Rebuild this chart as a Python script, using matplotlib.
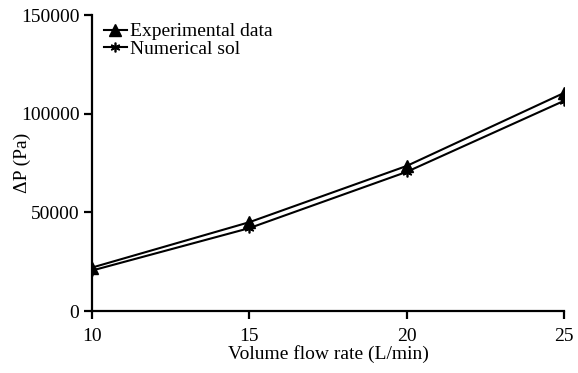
import matplotlib
matplotlib.use("Agg")
import matplotlib.pyplot as plt

flow = [10, 15, 20, 25]
exp_dp = [22000, 45000, 73500, 110500]
num_dp = [20500, 42000, 70500, 106500]
xticks = [10, 15, 20, 25]
yticks = [0, 50000, 100000, 150000]

plt.rcParams['font.family'] = ['Liberation Serif', 'DejaVu Serif']
fig = plt.figure(figsize=(5.78, 3.73), dpi=100)
L, R, T, B = 92, 564, 15, 311
ax = fig.add_axes([L/578, 1-B/373, (R-L)/578, (B-T)/373])
ax.plot(flow, exp_dp, color='black', marker='^', markersize=8, lw=1.5, label='Experimental data')
ax.plot(flow, num_dp, color='black', marker=(6, 2, 0), markersize=7, mew=1.2, lw=1.5, label='Numerical sol')
ax.set_xlim(10, 25)
ax.set_ylim(0, 150000)
ax.set_xticks(xticks)
ax.set_yticks(yticks)
ax.spines['top'].set_visible(False)
ax.spines['right'].set_visible(False)
ax.spines['left'].set_linewidth(1.6)
ax.spines['bottom'].set_linewidth(1.6)
ax.tick_params(direction='out', length=6, width=1.6, labelsize=14, pad=3)
ax.tick_params(axis='x', pad=6)
ax.set_xlabel('Volume flow rate (L/min)', fontsize=14, labelpad=0)
ax.set_ylabel('ΔP (Pa)', fontsize=14, va='center')
ax.yaxis.set_label_coords(-(L-22)/(R-L), 0.5)
ax.legend(loc='upper left', frameon=False, fontsize=14, handlelength=1.2,
          handletextpad=0.15, borderaxespad=0.0, labelspacing=0.0,
          bbox_to_anchor=((96-L)/(R-L), 1 + (T-15)/(B-T)))
for s in ax.spines.values():
    s.set_clip_on(False)
fig.savefig('out.png', dpi=100)
